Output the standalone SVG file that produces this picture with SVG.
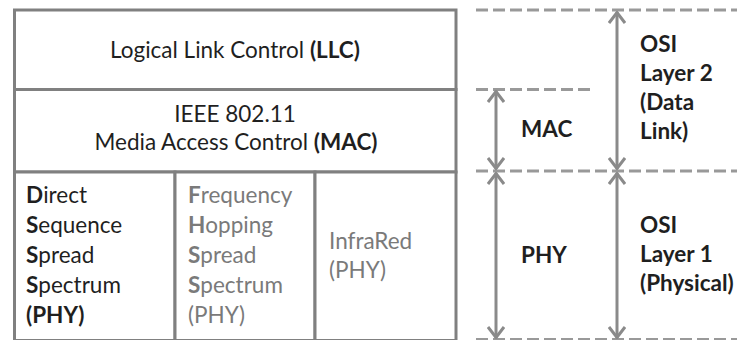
<svg xmlns="http://www.w3.org/2000/svg" width="737" height="340" viewBox="0 0 737 340">
  <style>
    .cell { fill: #ffffff; stroke: #808080; stroke-width: 3; }
    .t { font-family: Lato, "Open Sans", "Liberation Sans", sans-serif; font-size: 22.5px; fill: #1f1f1f; }
    .g { fill: #7a7a7a; }
    .b { font-weight: bold; }
    .guide { stroke: #999999; stroke-width: 3; stroke-dasharray: 12 5; fill: none; }
    .span { stroke: #8a8a8a; stroke-width: 3; fill: none; marker-start: url(#chev); marker-end: url(#chev); }
  </style>
  <defs>
    <marker id="chev" viewBox="0 0 13 18" refX="12" refY="9" markerWidth="13" markerHeight="18" markerUnits="userSpaceOnUse" orient="auto-start-reverse">
      <path d="M1,1 L11.5,9 L1,17" fill="none" stroke="#8a8a8a" stroke-width="3"/>
    </marker>
  </defs>
  <rect width="737" height="340" fill="#ffffff"/>

  <!-- protocol stack -->
  <g id="llc">
    <rect class="cell" x="14.5" y="10" width="441.5" height="79.5"/>
    <text class="t" x="235" y="58" text-anchor="middle">Logical Link Control <tspan class="b">(LLC)</tspan></text>
  </g>
  <g id="mac">
    <rect class="cell" x="14.5" y="89.5" width="441.5" height="82.5"/>
    <text class="t" x="235" y="122" text-anchor="middle">IEEE 802.11</text>
    <text class="t" x="236" y="150" text-anchor="middle">Media Access Control <tspan class="b">(MAC)</tspan></text>
  </g>
  <g id="dsss">
    <rect class="cell" x="14.5" y="172" width="160.5" height="168.5"/>
    <text class="t" x="26" y="203"><tspan class="b">D</tspan>irect</text>
    <text class="t" x="26" y="233"><tspan class="b">S</tspan>equence</text>
    <text class="t" x="26" y="263"><tspan class="b">S</tspan>pread</text>
    <text class="t" x="26" y="293"><tspan class="b">S</tspan>pectrum</text>
    <text class="t b" x="26" y="323">(PHY)</text>
  </g>
  <g id="fhss">
    <rect class="cell" x="175" y="172" width="140" height="168.5"/>
    <text class="t g" x="188" y="203"><tspan class="b">F</tspan>requency</text>
    <text class="t g" x="188" y="233"><tspan class="b">H</tspan>opping</text>
    <text class="t g" x="188" y="263"><tspan class="b">S</tspan>pread</text>
    <text class="t g" x="188" y="293"><tspan class="b">S</tspan>pectrum</text>
    <text class="t g" x="188" y="323">(PHY)</text>
  </g>
  <g id="infrared">
    <rect class="cell" x="315" y="172" width="141" height="168.5"/>
    <text class="t g" x="329" y="249">InfraRed</text>
    <text class="t g" x="329" y="278">(PHY)</text>
  </g>

  <!-- layer boundaries and spans -->
  <g id="connectors">
    <line class="guide" x1="476" y1="10" x2="737" y2="10"/>
    <line class="guide" x1="476" y1="89.5" x2="594" y2="89.5"/>
    <line class="guide" x1="476" y1="171" x2="737" y2="171"/>
    <line class="guide" x1="476" y1="339.5" x2="737" y2="339.5"/>
    <line class="span" x1="496" y1="91" x2="496" y2="169"/>
    <line class="span" x1="496" y1="173" x2="496" y2="338"/>
    <line class="span" x1="617" y1="12" x2="617" y2="169"/>
    <line class="span" x1="617" y1="173" x2="617" y2="338"/>
  </g>

  <!-- layer labels -->
  <g id="label-mac">
    <text class="t b" x="521" y="137">MAC</text>
  </g>
  <g id="label-phy">
    <text class="t b" x="521" y="263">PHY</text>
  </g>
  <g id="label-osi2">
    <text class="t b" x="640" y="52">OSI</text>
    <text class="t b" x="640" y="81">Layer 2</text>
    <text class="t b" x="640" y="110">(Data</text>
    <text class="t b" x="640" y="139">Link)</text>
  </g>
  <g id="label-osi1">
    <text class="t b" x="640" y="233">OSI</text>
    <text class="t b" x="640" y="262">Layer 1</text>
    <text class="t b" x="640" y="291">(Physical)</text>
  </g>
</svg>
